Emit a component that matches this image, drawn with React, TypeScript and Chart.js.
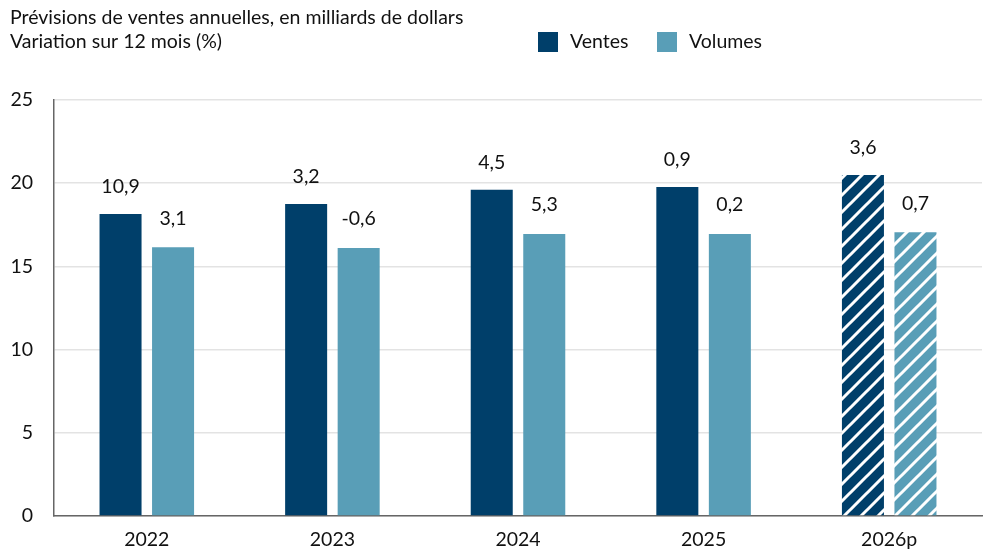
import React, { useEffect, useRef } from "react";
import { Chart, registerables } from "chart.js";

Chart.register(...registerables);

const titleLines = [
  "Prévisions de ventes annuelles, en milliards de dollars",
  "Variation sur 12 mois (%)",
];
const categories = ["2022", "2023", "2024", "2025", "2026p"];
const ventes = [18.15, 18.75, 19.6, 19.77, 20.5];
const volumes = [16.15, 16.1, 16.95, 16.95, 17.05];
const ventesChange = ["10,9", "3,2", "4,5", "0,9", "3,6"];
const volumesChange = ["3,1", "-0,6", "5,3", "0,2", "0,7"];
const forecastFlags = [false, false, false, false, true];
const yTicks = [0, 5, 10, 15, 20, 25];

const FONT = "Lato, sans-serif";
const FS = 19.5;
const DARK = "#003f6a";
const LIGHT = "#599eb7";

function makeHatch(color: string): CanvasPattern | string {
  const s = 17;
  const c = document.createElement("canvas");
  c.width = s;
  c.height = s;
  const ctx = c.getContext("2d");
  if (!ctx) return color;
  ctx.fillStyle = color;
  ctx.fillRect(0, 0, s, s);
  ctx.strokeStyle = "#ffffff";
  ctx.lineWidth = 3;
  ctx.beginPath();
  ctx.moveTo(-3, s + 3);
  ctx.lineTo(s + 3, -3);
  ctx.moveTo(-3, 3);
  ctx.lineTo(3, -3);
  ctx.moveTo(s - 3, s + 3);
  ctx.lineTo(s + 3, s - 3);
  ctx.stroke();
  const p = ctx.createPattern(c, "repeat");
  return p || color;
}

export default function App() {
  const ref = useRef<HTMLCanvasElement>(null);

  useEffect(() => {
    if (!ref.current) return;
    const darkHatch = makeHatch(DARK);
    const lightHatch = makeHatch(LIGHT);

    const overlay = {
      id: "overlay",
      afterDraw(chart: any) {
        const ctx = chart.ctx;
        ctx.save();
        ctx.fillStyle = "#111";
        ctx.font = `${FS}px ${FONT}`;
        ctx.textAlign = "left";
        ctx.textBaseline = "middle";
        titleLines.forEach((t, i) => ctx.fillText(t, 10, 18 + i * 24));
        let x = 538;
        chart.data.datasets.forEach((ds: any) => {
          ctx.fillStyle = ds.legendColor;
          ctx.fillRect(x, 32, 20, 20);
          ctx.fillStyle = "#111";
          ctx.fillText(ds.label, x + 32, 42);
          x += 119;
        });
        ctx.textAlign = "center";
        const labels = [ventesChange, volumesChange];
        chart.data.datasets.forEach((ds: any, di: number) => {
          const meta = chart.getDatasetMeta(di);
          meta.data.forEach((el: any, i: number) => {
            const off = di === 0 ? 27 : 29;
            ctx.fillText(labels[di][i], el.x, el.y - off);
          });
        });
        ctx.restore();
      },
    };

    const chart = new Chart(ref.current, {
      type: "bar",
      data: {
        labels: categories,
        datasets: [
          {
            label: "Ventes",
            data: ventes,
            legendColor: DARK,
            backgroundColor: forecastFlags.map((f) => (f ? darkHatch : DARK)),
            categoryPercentage: 0.566,
            barPercentage: 0.8,
          } as any,
          {
            label: "Volumes",
            data: volumes,
            legendColor: LIGHT,
            backgroundColor: forecastFlags.map((f) => (f ? lightHatch : LIGHT)),
            categoryPercentage: 0.566,
            barPercentage: 0.8,
          } as any,
        ],
      },
      options: {
        animation: false,
        responsive: false,
        maintainAspectRatio: false,
        layout: { padding: { top: 100, right: 10, left: 0, bottom: 0 } },
        plugins: {
          legend: { display: false },
          title: { display: false },
          tooltip: { enabled: false },
        },
        scales: {
          x: {
            grid: { display: false, drawTicks: false },
            border: { display: true, color: "#666", width: 1.5 },
            ticks: {
              color: "#111",
              font: { family: FONT, size: FS },
              padding: 12,
            },
            afterFit(scale: any) {
              scale.height = 42;
            },
          },
          y: {
            min: 0,
            max: 25,
            afterBuildTicks(scale: any) {
              scale.ticks = yTicks.map((v) => ({ value: v }));
            },
            grid: { color: "#e3e3e3", lineWidth: 1.5, drawTicks: false },
            border: { display: true, color: "#666", width: 1.5 },
            ticks: {
              color: "#111",
              font: { family: FONT, size: FS },
              padding: 21,
            },
            afterFit(scale: any) {
              scale.width = 54;
            },
          },
        },
      },
      plugins: [overlay],
    });
    return () => chart.destroy();
  }, []);

  return (
    <div style={{ position: "absolute", left: 0, top: 0, width: 992, height: 558, background: "#fff" }}>
      <canvas ref={ref} width={992} height={558} style={{ display: "block", width: 992, height: 558 }} />
    </div>
  );
}
